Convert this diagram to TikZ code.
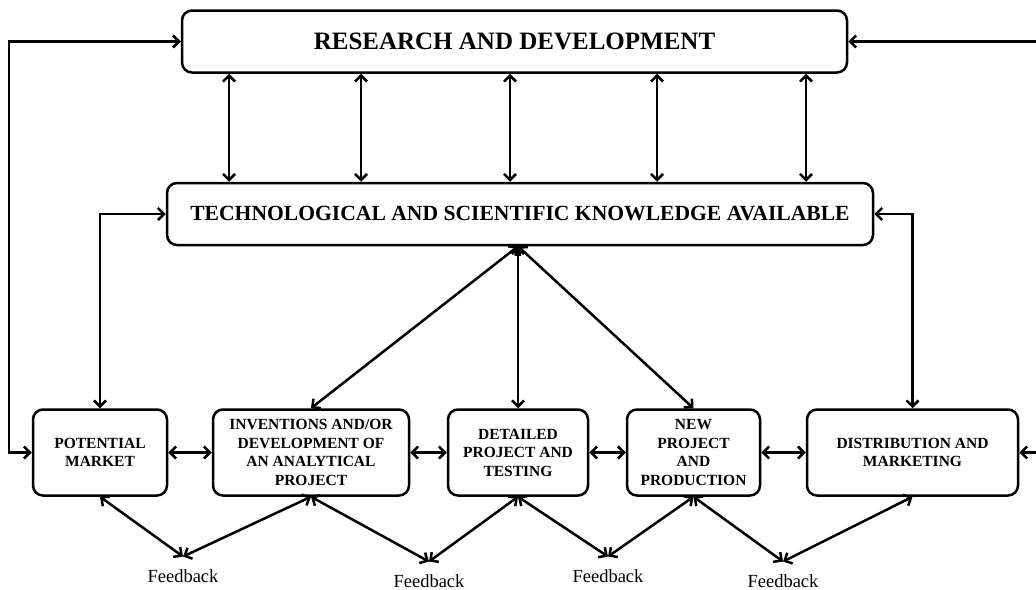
\documentclass[tikz,border=0pt]{standalone}
\usepackage{fontspec}
\setmainfont{Liberation Serif}
\usetikzlibrary{arrows.meta}
\begin{document}
\begin{tikzpicture}[x=1pt,y=-1pt,
  barb/.tip={Straight Barb[length=6pt,width=12pt]},
  link/.style={line width=2.5pt, barb-barb},
  into/.style={line width=2.5pt, -barb},
  box/.style={draw, line width=2.5pt, rounded corners=10pt, inner sep=0pt,
    align=center, minimum height=86pt,
    font=\bfseries\fontsize{15.5}{18.5}\selectfont},
  wide/.style={box, minimum height=62pt},
  fb/.style={font=\fontsize{18.5}{22}\selectfont, anchor=base,
    inner xsep=0pt, inner ysep=12.4pt}]
\useasboundingbox (0,0) rectangle (1036,589);

% top boxes
\node[wide, minimum width=665pt, font=\bfseries\fontsize{25}{29}\selectfont]
  (rd) at (514.5,41.5) {RESEARCH AND DEVELOPMENT};
\node[wide, minimum width=706pt, font=\bfseries\fontsize{21.6}{26}\selectfont]
  (tk) at (520,214) {TECHNOLOGICAL AND SCIENTIFIC KNOWLEDGE AVAILABLE};

% stages of the process
\node[box, minimum width=134pt] (pm)   at (100,452.5)   {POTENTIAL\\MARKET};
\node[box, minimum width=196pt] (inv)  at (311,452.5)   {INVENTIONS AND/OR\\DEVELOPMENT OF\\AN ANALYTICAL\\PROJECT};
\node[box, minimum width=140pt] (det)  at (518,452.5)   {DETAILED\\PROJECT AND\\TESTING};
\node[box, minimum width=133pt] (new)  at (693.5,452.5) {NEW\\PROJECT\\AND\\PRODUCTION};
\node[box, minimum width=211pt] (dist) at (912.5,452.5) {DISTRIBUTION AND\\MARKETING};

% feedback labels
\node[fb] (fb1) at (183,582) {Feedback};
\node[fb] (fb2) at (429,587) {Feedback};
\node[fb] (fb3) at (608,582) {Feedback};
\node[fb] (fb4) at (783,587) {Feedback};

% links between research and knowledge
\foreach \x [count=\i] in {229,361,510,657,806} {
  \coordinate (v\i) at (\x,0);
  \draw[link] (rd.south -| v\i) -- (tk.north -| v\i);
}

% outer loops
\coordinate (lx) at (9,0);
\coordinate (rx) at (1036,0);
\draw[link] (rd.west) -- (rd.west -| lx) -- (pm.west -| lx) -- (pm.west);
\draw[into] (rd.east -| rx) -- (rd.east);
\draw[into] (dist.east -| rx) -- (dist.east);

% knowledge to the stages
\draw[link] (tk.west) -| (pm.north);
\draw[link] (tk.east) -| (dist.north);
\coordinate (hub) at (tk.south -| det.north);
\draw[link] (hub) -- (inv.north);
\draw[link] (hub) -- (det.north);
\draw[link] (hub) -- (new.north);

% chain of stages
\draw[link] (pm.east) -- (inv.west);
\draw[link] (inv.east) -- (det.west);
\draw[link] (det.east) -- (new.west);
\draw[link] (new.east) -- (dist.west);

% feedback
\draw[link] (pm.south) -- (fb1.north);
\draw[link] (inv.south) -- (fb1.north);
\draw[link] (inv.south) -- (fb2.north);
\draw[link] (det.south) -- (fb2.north);
\draw[link] (det.south) -- (fb3.north);
\draw[link] (new.south) -- (fb3.north);
\draw[link] (new.south) -- (fb4.north);
\draw[link] (dist.south) -- (fb4.north);
\end{tikzpicture}
\end{document}
